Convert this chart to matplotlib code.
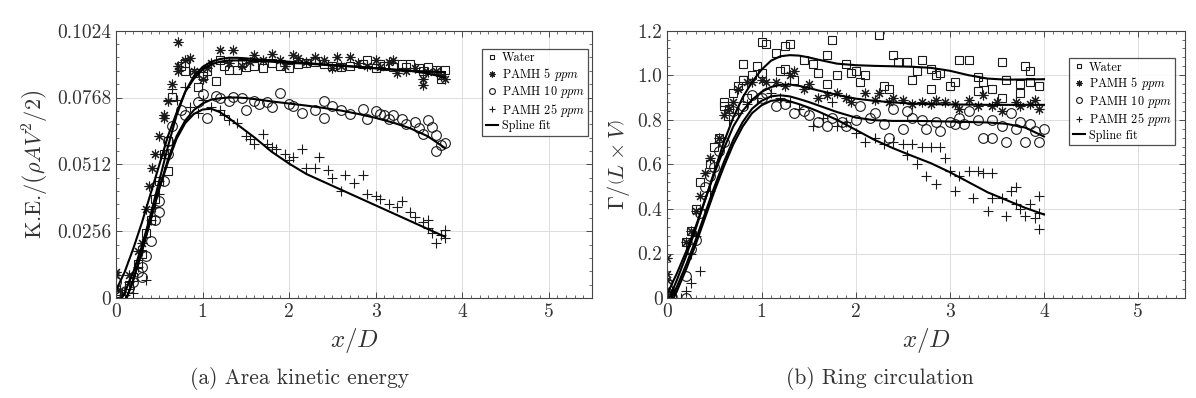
import matplotlib
matplotlib.use("Agg")
import matplotlib.pyplot as plt
from matplotlib.ticker import MultipleLocator, AutoMinorLocator

plt.rcParams['font.family'] = 'serif'
plt.rcParams['font.serif'] = ['cmr10', 'DejaVu Serif']
plt.rcParams['mathtext.fontset'] = 'cm'
plt.rcParams['axes.unicode_minus'] = False

labels = ['Water', r'PAMH 5 $ppm$', r'PAMH 10 $ppm$', r'PAMH 25 $ppm$']
markers = ['s', (8, 2, 0), 'o', '+']

# ---- (a) kinetic energy: scatter data ----
ke_water_x = [0, 0.02, 0.15, 0.2, 0.25, 0.3, 0.35, 0.4, 0.45, 0.5, 0.55, 0.6, 0.6, 0.65, 0.75, 0.8, 0.8, 0.9,
              0.95, 1.0, 1.05, 1.15, 1.2, 1.25, 1.3, 1.4, 1.45, 1.5, 1.6, 1.7, 1.8, 1.9, 2.0, 2.1, 2.2, 2.3,
              2.4, 2.5, 2.6, 2.7, 2.85, 2.9, 3.0, 3.05, 3.1, 3.2, 3.3, 3.35, 3.4, 3.5, 3.55, 3.6, 3.7, 3.75,
              3.8, 3.75]
ke_water_y = [0.001, 0.002, 0.005, 0.008, 0.013, 0.017, 0.025, 0.030, 0.038, 0.045, 0.055, 0.060, 0.0485,
              0.077, 0.089, 0.090, 0.087, 0.086, 0.081, 0.085, 0.087, 0.083, 0.091, 0.089, 0.0875, 0.0875,
              0.090, 0.0885, 0.089, 0.088, 0.090, 0.089, 0.088, 0.0895, 0.090, 0.0905, 0.0895, 0.089,
              0.0885, 0.089, 0.0895, 0.091, 0.088, 0.0895, 0.089, 0.0885, 0.0895, 0.0885, 0.0895, 0.088,
              0.087, 0.0885, 0.0875, 0.0855, 0.0875, 0.084]

ke_p5_x = [0, 0, 0.05, 0.15, 0.25, 0.3, 0.35, 0.38, 0.42, 0.45, 0.5, 0.55, 0.55, 0.6, 0.65, 0.72, 0.72, 0.72,
           0.8, 0.85, 0.9, 1.0, 1.05, 1.1, 1.2, 1.3, 1.35, 1.45, 1.55, 1.6, 1.7, 1.8, 1.9, 1.95, 2.05, 2.1,
           2.2, 2.3, 2.4, 2.5, 2.55, 2.6, 2.7, 2.8, 2.9, 3.0, 3.05, 3.15, 3.2, 3.25, 3.35, 3.45, 3.55, 3.55,
           3.6, 3.7, 3.75, 3.8]
ke_p5_y = [0.010, 0.009, 0.003, 0.009, 0.018, 0.021, 0.034, 0.043, 0.050, 0.055, 0.062, 0.069, 0.070, 0.0755,
           0.082, 0.098, 0.087, 0.089, 0.091, 0.092, 0.087, 0.084, 0.088, 0.090, 0.095, 0.090, 0.095, 0.089,
           0.0905, 0.093, 0.091, 0.0935, 0.091, 0.089, 0.093, 0.092, 0.0905, 0.0925, 0.091, 0.088, 0.0925,
           0.089, 0.0925, 0.090, 0.089, 0.091, 0.0885, 0.0905, 0.091, 0.086, 0.087, 0.088, 0.0815, 0.084,
           0.0865, 0.087, 0.085, 0.084]

ke_p10_x = [0, 0, 0, 0.15, 0.2, 0.25, 0.3, 0.3, 0.35, 0.4, 0.45, 0.5, 0.5, 0.55, 0.6, 0.6, 0.65, 0.75, 0.8,
            0.95, 1.0, 1.05, 1.15, 1.2, 1.3, 1.35, 1.45, 1.5, 1.6, 1.65, 1.75, 1.8, 1.9, 2.0, 2.05, 2.15,
            2.3, 2.4, 2.4, 2.5, 2.6, 2.7, 2.85, 2.9, 3.0, 3.05, 3.1, 3.15, 3.2, 3.3, 3.35, 3.45, 3.5, 3.55,
            3.6, 3.65, 3.7, 3.75, 3.8, 3.7]
ke_p10_y = [0.001, 0.002, 0.006, 0.004, 0.006, 0.010, 0.012, 0.008, 0.016, 0.022, 0.030, 0.037, 0.033, 0.045,
            0.055, 0.060, 0.066, 0.072, 0.070, 0.075, 0.078, 0.069, 0.0775, 0.0765, 0.0755, 0.077, 0.0765,
            0.072, 0.0755, 0.0745, 0.075, 0.073, 0.0785, 0.0745, 0.0735, 0.071, 0.072, 0.0755, 0.069,
            0.0735, 0.072, 0.0705, 0.0725, 0.0685, 0.0715, 0.0705, 0.070, 0.0685, 0.070, 0.0685, 0.0665,
            0.0675, 0.065, 0.063, 0.068, 0.0655, 0.0625, 0.0585, 0.0595, 0.0565]

ke_p25_x = [0.05, 0.1, 0.15, 0.2, 0.25, 0.3, 0.35, 0.4, 0.45, 0.5, 0.5, 0.55, 0.55, 0.6, 0.65, 0.7, 0.8,
            0.85, 0.95, 1.0, 1.1, 1.2, 1.25, 1.3, 1.4, 1.5, 1.55, 1.6, 1.7, 1.75, 1.8, 1.85, 1.95, 2.0, 2.05,
            2.15, 2.2, 2.3, 2.35, 2.45, 2.5, 2.6, 2.65, 2.75, 2.85, 2.9, 3.0, 3.05, 3.15, 3.25, 3.3, 3.4,
            3.45, 3.55, 3.6, 3.65, 3.7, 3.75, 3.8, 3.8, 3.6]
ke_p25_y = [0.001, 0.001, 0.006, 0.002, 0.012, 0.018, 0.007, 0.030, 0.035, 0.040, 0.045, 0.055, 0.070,
            0.076, 0.080, 0.076, 0.081, 0.073, 0.071, 0.076, 0.073, 0.072, 0.070, 0.068, 0.067, 0.062,
            0.061, 0.059, 0.063, 0.059, 0.058, 0.057, 0.055, 0.053, 0.054, 0.057, 0.050, 0.050, 0.054,
            0.049, 0.046, 0.041, 0.047, 0.044, 0.047, 0.040, 0.039, 0.038, 0.036, 0.035, 0.037, 0.033,
            0.031, 0.029, 0.027, 0.025, 0.021, 0.024, 0.026, 0.023, 0.030]

# spline fits (a)
ke_fit_x = [0, 0.1, 0.2, 0.3, 0.4, 0.5, 0.6, 0.7, 0.8, 0.9, 1.0, 1.1, 1.2, 1.3, 1.4, 1.5, 1.6, 1.8, 2.0,
            2.2, 2.4, 2.6, 2.8, 3.0, 3.2, 3.4, 3.6, 3.8]
ke_fit_water = [-0.004, 0.002, 0.010, 0.020, 0.032, 0.045, 0.058, 0.070, 0.079, 0.085, 0.0885, 0.0905,
                0.0915, 0.092, 0.092, 0.0918, 0.0915, 0.091, 0.0905, 0.090, 0.0895, 0.089, 0.0885, 0.088,
                0.0875, 0.087, 0.0868, 0.0865]
ke_fit_p5 = [0.003, 0.010, 0.019, 0.029, 0.040, 0.051, 0.062, 0.071, 0.079, 0.084, 0.0875, 0.0895, 0.0905,
             0.091, 0.091, 0.091, 0.0908, 0.0905, 0.090, 0.0898, 0.0893, 0.089, 0.0885, 0.088, 0.0875,
             0.087, 0.086, 0.0845]
ke_fit_p10 = [-0.008, -0.002, 0.007, 0.018, 0.030, 0.042, 0.053, 0.062, 0.068, 0.072, 0.0745, 0.076,
              0.0765, 0.0768, 0.0768, 0.0766, 0.0762, 0.0753, 0.0745, 0.0737, 0.0728, 0.0718, 0.0705,
              0.069, 0.0672, 0.065, 0.062, 0.0575]
ke_fit_p25 = [-0.008, -0.002, 0.007, 0.018, 0.030, 0.042, 0.052, 0.061, 0.067, 0.0705, 0.0722, 0.0725,
              0.0712, 0.069, 0.0665, 0.064, 0.0615, 0.056, 0.0515, 0.0475, 0.0445, 0.0415, 0.0385, 0.0355,
              0.0325, 0.0295, 0.0265, 0.0235]

# ---- (b) ring circulation: scatter data ----
gc_water_x = [0, 0.05, 0.2, 0.25, 0.3, 0.35, 0.45, 0.5, 0.55, 0.6, 0.6, 0.65, 0.7, 0.75, 0.8, 0.8, 0.85,
              0.9, 0.95, 1.0, 1.0, 1.05, 1.15, 1.2, 1.25, 1.25, 1.3, 1.35, 1.45, 1.55, 1.6, 1.7, 1.7, 1.75,
              1.8, 1.9, 1.95, 2.0, 2.05, 2.1, 2.3, 2.25, 2.35, 2.4, 2.45, 2.55, 2.6, 2.65, 2.7, 2.8, 2.8,
              2.85, 2.9, 3.0, 3.05, 3.1, 3.2, 3.3, 3.3, 3.35, 3.45, 3.55, 3.55, 3.6, 3.75, 3.75, 3.8, 3.85,
              3.85, 3.95]
gc_water_y = [0.01, 0.0, 0.25, 0.30, 0.40, 0.52, 0.60, 0.68, 0.72, 0.86, 0.88, 0.85, 0.92, 0.95, 1.05, 0.98,
              0.90, 1.00, 1.04, 1.15, 1.01, 1.14, 1.10, 1.02, 1.13, 1.03, 1.14, 0.98, 1.07, 1.05, 1.01, 1.09,
              0.96, 1.16, 1.00, 1.05, 1.01, 1.02, 0.97, 1.00, 0.95, 1.18, 0.94, 1.09, 1.06, 1.06, 0.98, 1.02,
              1.07, 0.94, 1.03, 1.00, 1.01, 0.95, 0.97, 1.07, 1.07, 0.93, 0.99, 0.97, 0.94, 1.06, 0.90, 0.98,
              0.92, 0.96, 1.04, 1.02, 0.97, 0.95]

gc_p5_x = [0, 0, 0, 0.05, 0.2, 0.25, 0.3, 0.35, 0.4, 0.45, 0.55, 0.6, 0.65, 0.7, 0.75, 0.85, 0.9, 1.0,
           1.05, 1.15, 1.25, 1.3, 1.35, 1.45, 1.5, 1.6, 1.7, 1.8, 1.9, 1.95, 2.1, 2.2, 2.25, 2.35, 2.4, 2.5,
           2.6, 2.7, 2.8, 2.85, 2.95, 3.05, 3.1, 3.2, 3.3, 3.35, 3.45, 3.5, 3.55, 3.7, 3.75, 3.85, 3.9, 3.95]
gc_p5_y = [0.18, 0.11, 0.08, 0.03, 0.25, 0.30, 0.39, 0.46, 0.56, 0.63, 0.72, 0.82, 0.85, 0.88, 0.94, 0.97,
           0.97, 0.98, 0.97, 0.97, 0.95, 1.00, 1.02, 0.94, 0.96, 0.90, 0.91, 0.92, 0.90, 0.88, 0.92, 0.89,
           0.92, 0.88, 0.90, 0.89, 0.87, 0.88, 0.87, 0.89, 0.88, 0.87, 0.85, 0.89, 0.86, 0.91, 0.86, 0.88,
           0.84, 0.88, 0.86, 0.87, 0.89, 0.85]

gc_p10_x = [0, 0, 0, 0.2, 0.2, 0.25, 0.3, 0.35, 0.4, 0.45, 0.5, 0.55, 0.6, 0.7, 0.8, 0.9, 1.0, 1.05, 1.15,
            1.25, 1.35, 1.45, 1.5, 1.6, 1.7, 1.75, 1.85, 1.9, 2.0, 2.05, 2.15, 2.2, 2.3, 2.35, 2.4, 2.5,
            2.55, 2.6, 2.7, 2.75, 2.85, 2.9, 3.0, 3.05, 3.1, 3.15, 3.2, 3.3, 3.35, 3.45, 3.45, 3.55, 3.6,
            3.65, 3.7, 3.75, 3.8, 3.85, 3.9, 3.95, 4.0]
gc_p10_y = [0.0, 0.01, 0.07, 0.0, 0.10, 0.22, 0.26, 0.38, 0.50, 0.55, 0.59, 0.66, 0.70, 0.84, 0.86, 0.91,
            0.90, 0.92, 0.86, 0.87, 0.83, 0.84, 0.82, 0.79, 0.77, 0.81, 0.79, 0.77, 0.80, 0.86, 0.81, 0.83,
            0.78, 0.72, 0.85, 0.76, 0.84, 0.81, 0.80, 0.76, 0.79, 0.75, 0.79, 0.78, 0.81, 0.78, 0.84, 0.80,
            0.72, 0.72, 0.80, 0.77, 0.70, 0.83, 0.76, 0.79, 0.70, 0.78, 0.75, 0.70, 0.76]

gc_p25_x = [0.05, 0.15, 0.2, 0.25, 0.25, 0.35, 0.3, 0.35, 0.45, 0.55, 0.65, 0.75, 0.85, 0.95, 1.1, 1.2,
            1.3, 1.4, 1.55, 1.65, 1.75, 1.8, 1.9, 2.0, 2.1, 2.2, 2.3, 2.4, 2.5, 2.55, 2.6, 2.65, 2.7, 2.75,
            2.8, 2.85, 2.9, 2.95, 3.0, 3.05, 3.1, 3.2, 3.25, 3.3, 3.35, 3.4, 3.45, 3.45, 3.55, 3.6, 3.65,
            3.7, 3.7, 3.75, 3.8, 3.85, 3.9, 3.95, 3.95, 3.95]
gc_p25_y = [0.0, 0.0, 0.03, 0.07, 0.20, 0.12, 0.28, 0.40, 0.48, 0.70, 0.80, 0.83, 0.87, 0.90, 0.92, 0.90,
            0.88, 0.85, 0.77, 0.81, 0.88, 0.77, 0.79, 0.74, 0.70, 0.72, 0.69, 0.70, 0.69, 0.64, 0.69, 0.60,
            0.68, 0.55, 0.68, 0.51, 0.68, 0.63, 0.57, 0.48, 0.55, 0.57, 0.45, 0.57, 0.56, 0.39, 0.56, 0.45,
            0.45, 0.37, 0.48, 0.50, 0.42, 0.40, 0.37, 0.42, 0.36, 0.46, 0.31, 0.38]

# spline fits (b)
gc_fit_x = [0, 0.1, 0.2, 0.3, 0.4, 0.5, 0.6, 0.7, 0.8, 0.9, 1.0, 1.1, 1.2, 1.3, 1.4, 1.5, 1.6, 1.8, 2.0,
            2.2, 2.4, 2.6, 2.8, 3.0, 3.2, 3.4, 3.6, 3.8, 4.0]
gc_fit_water = [-0.02, 0.08, 0.19, 0.31, 0.44, 0.57, 0.70, 0.81, 0.90, 0.97, 1.025, 1.065, 1.085, 1.09,
                1.088, 1.08, 1.07, 1.052, 1.045, 1.042, 1.04, 1.038, 1.033, 1.02, 1.0, 0.985, 0.98, 0.981,
                0.982]
gc_fit_p5 = [0.02, 0.11, 0.21, 0.32, 0.44, 0.56, 0.67, 0.77, 0.84, 0.89, 0.925, 0.947, 0.957, 0.958, 0.952,
             0.943, 0.932, 0.912, 0.895, 0.885, 0.878, 0.873, 0.87, 0.869, 0.868, 0.867, 0.867, 0.867, 0.867]
gc_fit_p10 = [-0.04, 0.05, 0.15, 0.26, 0.38, 0.50, 0.61, 0.71, 0.79, 0.85, 0.885, 0.905, 0.91, 0.905,
              0.893, 0.88, 0.865, 0.835, 0.81, 0.798, 0.795, 0.795, 0.794, 0.792, 0.79, 0.788, 0.782,
              0.765, 0.725]
gc_fit_p25 = [-0.06, 0.03, 0.13, 0.24, 0.36, 0.48, 0.59, 0.69, 0.77, 0.83, 0.865, 0.885, 0.89, 0.883,
              0.87, 0.855, 0.838, 0.80, 0.755, 0.71, 0.672, 0.638, 0.605, 0.565, 0.52, 0.475, 0.44, 0.405,
              0.375]

ke_scatter = [(ke_water_x, ke_water_y), (ke_p5_x, ke_p5_y), (ke_p10_x, ke_p10_y), (ke_p25_x, ke_p25_y)]
ke_fits = [ke_fit_water, ke_fit_p5, ke_fit_p10, ke_fit_p25]
gc_scatter = [(gc_water_x, gc_water_y), (gc_p5_x, gc_p5_y), (gc_p10_x, gc_p10_y), (gc_p25_x, gc_p25_y)]
gc_fits = [gc_fit_water, gc_fit_p5, gc_fit_p10, gc_fit_p25]

ke_ticks = [0, 0.0256, 0.0512, 0.0768, 0.1024]
ke_ticklabels = ['0', '0.0256', '0.0512', '0.0768', '0.1024']
gc_ticks = [0, 0.2, 0.4, 0.6, 0.8, 1.0, 1.2]
gc_ticklabels = ['0', '0.2', '0.4', '0.6', '0.8', '1.0', '1.2']

fig = plt.figure(figsize=(11.96, 3.98), dpi=100)
ax1 = fig.add_axes([0.097, 0.251, 0.398, 0.672])
ax2 = fig.add_axes([0.558, 0.251, 0.433, 0.672])


def draw_panel(ax, scatter, fit_x, fits, yticks, yticklabels, ylabel, legend_anchor):
    for (xs, ys), m, lab in zip(scatter, markers, labels):
        ms = 5.5 if m == 's' else 7
        ax.plot(xs, ys, linestyle='none', marker=m, ms=ms, mfc='none', mec='#1a1a1a', mew=0.8,
                label=lab)
    for i, f in enumerate(fits):
        ax.plot(fit_x, f, color='black', lw=1.5, label='Spline fit' if i == 0 else None)
    ax.set_xlim(0, 5.5)
    ax.set_ylim(yticks[0], yticks[-1])
    ax.set_xticks([0, 1, 2, 3, 4, 5])
    ax.set_xticklabels(['0', '1', '2', '3', '4', '5'])
    ax.set_yticks(yticks)
    ax.set_yticklabels(yticklabels)
    ax.xaxis.set_minor_locator(MultipleLocator(0.1))
    ax.yaxis.set_minor_locator(AutoMinorLocator(5))
    ax.tick_params(which='both', direction='in', top=True, right=True, labelsize=14, colors='#333333')
    ax.tick_params(which='major', length=4, width=0.6)
    ax.tick_params(which='minor', length=2, width=0.5)
    for sp in ax.spines.values():
        sp.set_linewidth(0.8)
        sp.set_color('#444444')
    ax.grid(True, which='major', color='#dddddd', lw=0.7)
    ax.set_axisbelow(True)
    ax.set_xlabel(r'$x/D$', fontsize=18, color='#333333', labelpad=4)
    ax.set_ylabel(ylabel, fontsize=16, color='#333333', labelpad=4)
    leg = ax.legend(loc='upper right', bbox_to_anchor=legend_anchor, fontsize=8.8, frameon=True,
                    fancybox=False, edgecolor='#222222', handlelength=1.0, handletextpad=0.3,
                    borderpad=0.3, labelspacing=0.12, markerscale=0.6, borderaxespad=0)
    leg.get_frame().set_linewidth(0.9)


draw_panel(ax1, ke_scatter, ke_fit_x, ke_fits, ke_ticks, ke_ticklabels,
           r'K.E.$/\left(\rho A V^2/2\right)$', (0.992, 0.933))
draw_panel(ax2, gc_scatter, gc_fit_x, gc_fits, gc_ticks, gc_ticklabels,
           r'$\Gamma/\left(L\times V\right)$', (0.981, 0.898))

fig.text(300 / 1196, 1 - 378 / 398, '(a) Area kinetic energy', ha='center', va='center', fontsize=15.5,
         color='#333333')
fig.text(880 / 1196, 1 - 378 / 398, '(b) Ring circulation', ha='center', va='center', fontsize=15.5,
         color='#333333')

fig.savefig('out.png', dpi=100)
